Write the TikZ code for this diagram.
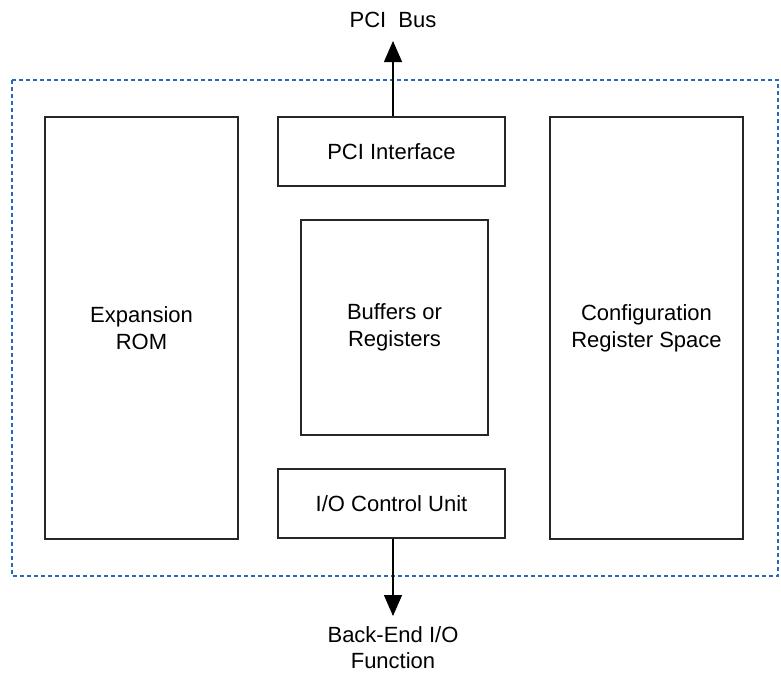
\documentclass[tikz,border=0pt]{standalone}
\usepackage{fontspec}
\setmainfont{Liberation Sans}
\usetikzlibrary{arrows.meta}
\definecolor{dotblue}{RGB}{40,105,190}
\tikzset{
  blk/.style={draw=black!85, line width=1.5pt, fill=white, inner sep=0pt, align=center, font=\fontsize{22}{27}\selectfont},
  lbl/.style={inner sep=0pt, align=center, font=\fontsize{22}{26}\selectfont},
  conn/.style={draw=black, line width=1.2pt, -{Triangle[length=21pt,width=18pt]}},
}
\begin{document}
\begin{tikzpicture}[x=1pt,y=-1pt]
\useasboundingbox (0,0) rectangle (781,673);
\draw[dotblue, line width=2pt, dash pattern=on 4pt off 3pt] (12,80) rectangle (778,576);
\node[blk, minimum width=193pt, minimum height=422pt] (rom) at (141.5,328) {Expansion\\ROM};
\node[blk, minimum width=227pt, minimum height=69pt] (pci) at (391.5,151.5) {PCI Interface};
\node[blk, minimum width=187pt, minimum height=215pt] (buf) at (394.5,327.5) {Buffers or\\Registers};
\node[blk, minimum width=227pt, minimum height=69pt] (ioc) at (391.5,503.5) {I/O Control Unit};
\node[blk, minimum width=193pt, minimum height=422pt] (cfg) at (646.5,328) {Configuration\\Register Space};
\node[lbl] (bus) at (393,19.5) {PCI\ \ Bus};
\node[lbl] (be) at (393,647.5) {Back-End I/O\\Function};
\coordinate (bustip) at (393,41);
\coordinate (betip) at (393,616);
\draw[conn] (pci.north -| bustip) -- (bustip);
\draw[conn] (ioc.south -| betip) -- (betip);
\end{tikzpicture}
\end{document}
